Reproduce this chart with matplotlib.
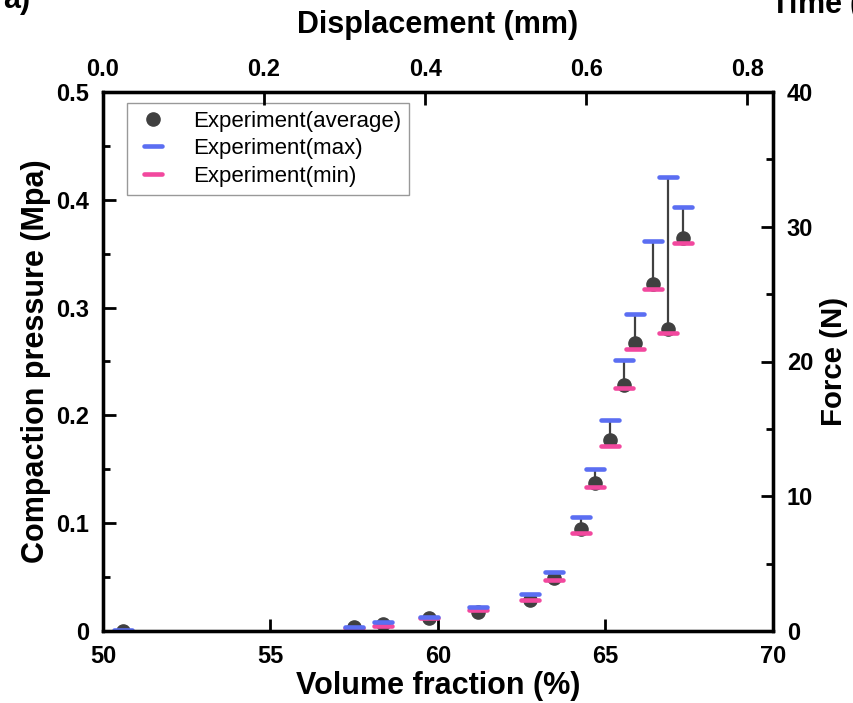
import numpy as np
import matplotlib
matplotlib.use('Agg')
import matplotlib.pyplot as plt
from matplotlib.markers import MarkerStyle
from matplotlib.ticker import MultipleLocator, FixedLocator, FuncFormatter

# volume fraction (%) and compaction pressure (MPa)
vf = [50.6, 57.5, 58.37, 59.74, 61.18, 62.75, 63.47, 64.26, 64.70, 65.14, 65.54, 65.88, 66.41, 66.86, 67.30]
p_avg = [0.0, 0.004, 0.0066, 0.0125, 0.018, 0.029, 0.049, 0.095, 0.137, 0.177, 0.228, 0.267, 0.322, 0.280, 0.365]
p_max = [0.001, 0.004, 0.0084, 0.0126, 0.0218, 0.034, 0.0545, 0.106, 0.150, 0.196, 0.251, 0.294, 0.362, 0.421, 0.3935]
p_min = [0.0, 0.003, 0.005, 0.0122, 0.0193, 0.029, 0.047, 0.091, 0.134, 0.172, 0.225, 0.262, 0.317, 0.276, 0.3595]

top_ticks = [0.0, 0.2, 0.4, 0.6, 0.8]

bold_font = 'Liberation Sans'
tick_size = 17
label_size = 22

c_avg = '#404040'
c_max = '#5b6ef2'
c_min = '#f2489e'

fig = plt.figure(figsize=(8.54, 7.03), dpi=100)
ax = fig.add_axes([103 / 854, 1 - 631 / 703, 670 / 854, 539 / 703])

ax.vlines(vf, p_min, p_max, color=c_avg, lw=1.6, zorder=2)
ax.plot(vf, p_avg, 'o', color=c_avg, ms=9.5, zorder=3, label='Experiment(average)')
dash = MarkerStyle('_', capstyle='round')
ax.plot(vf, p_min, ls='none', marker=dash, ms=13, mew=3.3, color=c_min, zorder=4, label='Experiment(min)')
ax.plot(vf, p_max, ls='none', marker=dash, ms=13, mew=3.3, color=c_max, zorder=5, label='Experiment(max)')

ax.set_xlim(50, 70)
ax.set_ylim(0, 0.5)
ax.xaxis.set_major_locator(MultipleLocator(5))
ax.yaxis.set_major_locator(MultipleLocator(0.1))
ax.yaxis.set_minor_locator(MultipleLocator(0.05))
ax.yaxis.set_major_formatter(FuncFormatter(lambda v, pos: '0' if abs(v) < 1e-9 else '%.1f' % v))
ax.set_xlabel('Volume fraction (%)', fontsize=label_size, fontweight='bold', family=bold_font, labelpad=2)
ax.set_ylabel('Compaction pressure (Mpa)', fontsize=label_size, fontweight='bold', family=bold_font, labelpad=4)
ax.tick_params(axis='both', which='both', direction='in', top=False, right=False, width=2, pad=10)
ax.tick_params(which='major', length=9)
ax.tick_params(which='minor', length=5)

axr = ax.twinx()
axr.set_ylim(0, 40)
axr.yaxis.set_major_locator(MultipleLocator(10))
axr.yaxis.set_minor_locator(MultipleLocator(5))
axr.set_ylabel('Force (N)', fontsize=label_size * 0.96, fontweight='bold', family=bold_font, labelpad=5)
axr.tick_params(axis='y', which='both', direction='in', width=2, pad=10)
axr.tick_params(which='major', length=9)
axr.tick_params(which='minor', length=5)

axt = ax.twiny()
axt.set_xlim(0, 0.832)
axt.xaxis.set_major_locator(FixedLocator(top_ticks))
axt.xaxis.set_major_formatter(FuncFormatter(lambda v, pos: '%.1f' % v))
axt.set_xlabel('Displacement (mm)', fontsize=label_size, fontweight='bold', family=bold_font, labelpad=18)
axt.tick_params(axis='x', which='both', direction='in', width=2, length=9, pad=8)

for a in (ax, axr, axt):
    for s in a.spines.values():
        s.set_linewidth(2.3)
    for lab in a.get_xticklabels() + a.get_yticklabels():
        lab.set_family(bold_font)
        lab.set_fontweight('bold')
        lab.set_fontsize(tick_size)

h, l = ax.get_legend_handles_labels()
order = [0, 2, 1]
leg = ax.legend([h[i] for i in order], [l[i] for i in order], loc='upper left',
                bbox_to_anchor=(0.036, 0.98), prop={'family': 'Liberation Sans', 'size': 16},
                frameon=True, fancybox=False, edgecolor='#808080', handlelength=1.6,
                handletextpad=1.0, labelspacing=0.3, borderpad=0.35, borderaxespad=0)
leg.get_frame().set_linewidth(1.0)

# fragments of neighbouring panels cut by the crop
fig.text(30 / 854, 1 - 8 / 703, 'a)', ha='right', va='baseline', fontsize=label_size,
         fontweight='bold', family=bold_font)
fig.text(770 / 854, 1 - 14 / 703, 'Time (x10$^3$ s)', ha='left', va='baseline', fontsize=label_size,
         fontweight='bold', family=bold_font)

fig.savefig('out.png', dpi=100)
